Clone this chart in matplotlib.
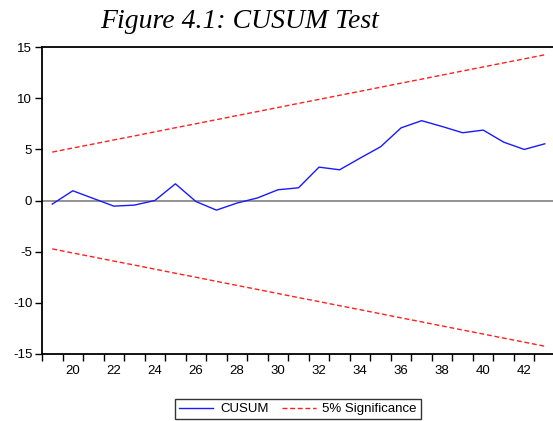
import numpy as np
import matplotlib
matplotlib.use('Agg')
import matplotlib.pyplot as plt

# Daten
obs = np.arange(19, 44)
cusum = [-0.35, 0.95, 0.2, -0.55, -0.45, 0.0, 1.63, -0.1, -0.94, -0.25,
         0.25, 1.05, 1.24, 3.26, 3.0, 4.14, 5.25, 7.1, 7.8, 7.23,
         6.62, 6.88, 5.7, 4.99, 5.54]
upper = [4.73, 5.13, 5.52, 5.92, 6.31, 6.71, 7.11, 7.50, 7.90, 8.30,
         8.69, 9.09, 9.49, 9.88, 10.28, 10.67, 11.07, 11.47, 11.86, 12.26,
         12.66, 13.05, 13.45, 13.84, 14.24]
lower = [-v for v in upper]
xlabels = [20, 22, 24, 26, 28, 30, 32, 34, 36, 38, 40, 42]
yticks = [-15, -10, -5, 0, 5, 10, 15]

plt.rcParams['font.family'] = ['Liberation Sans', 'DejaVu Sans']
plt.rcParams['axes.unicode_minus'] = False

fig = plt.figure(figsize=(5.53, 4.21), dpi=100)
ax = fig.add_axes([42/553, 67/421, 513/553, 307/421])

ax.axhline(0, color='#808080', lw=1.2, zorder=1)
ax.plot(obs, cusum, color='#1a1aff', lw=1.0, label='CUSUM')
ax.plot(obs, upper, color='#ff2020', lw=1.0, ls=(0, (3.5, 2)), label='5% Significance')
ax.plot(obs, lower, color='#ff2020', lw=1.0, ls=(0, (3.5, 2)))

ax.set_xlim(18.5, 43.5)
ax.set_ylim(-15, 15)
ax.set_yticks(yticks)
ax.set_xticks(xlabels)
ax.set_xticks(np.arange(18.5, 44, 1.0), minor=True)
ax.tick_params(axis='x', which='major', length=0, labelsize=9.5, pad=8)
ax.tick_params(axis='x', which='minor', length=5, width=1, direction='out')
ax.tick_params(axis='y', length=5, width=1, labelsize=9.5, pad=2)

ax.spines['right'].set_visible(False)
for s in ['left', 'top', 'bottom']:
    ax.spines[s].set_linewidth(1.3)

fig.text(240/553, 1 - 22/421, 'Figure 4.1: CUSUM Test', ha='center', va='center',
         fontsize=20, style='italic', family='Liberation Serif')

leg = fig.legend(loc='center', bbox_to_anchor=(298/553, 1 - 409/421), ncol=2,
                 fontsize=9.5, frameon=True, fancybox=False, handlelength=2.6,
                 columnspacing=1.0, handletextpad=0.5, borderpad=0.3)
leg.get_frame().set_edgecolor('black')
leg.get_frame().set_linewidth(1.0)

fig.savefig('out.png', dpi=100)
